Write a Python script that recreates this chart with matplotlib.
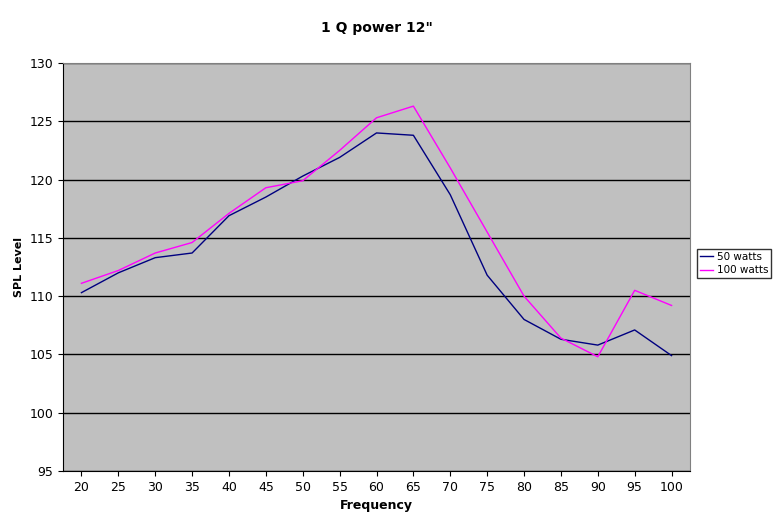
import matplotlib
matplotlib.use("Agg")
import matplotlib.pyplot as plt

freq = [20,25,30,35,40,45,50,55,60,65,70,75,80,85,90,95,100]
w50 = [110.3,112.0,113.3,113.7,116.9,118.5,120.3,121.9,124.0,123.8,118.7,111.8,108.0,106.3,105.8,107.1,104.9]
w100 = [111.1,112.2,113.7,114.6,117.1,119.3,119.9,122.5,125.3,126.3,121.0,115.5,110.0,106.4,104.8,110.5,109.2]

fig = plt.figure(figsize=(7.84,5.28), dpi=100)
ax = fig.add_axes([63/784, 1-471/528, 627/784, 408/528])
ax.set_facecolor('#C0C0C0')
x = list(range(len(freq)))
ax.plot(x, w50, color='#000080', lw=1, label='50 watts')
ax.plot(x, w100, color='#FF00FF', lw=1, label='100 watts')
ax.set_xlim(-0.5, len(freq)-0.5)
ax.set_ylim(95,130)
ax.set_yticks(range(95,131,5))
ax.set_xticks(x)
ax.set_xticklabels([str(f) for f in freq])
ax.yaxis.grid(True, color='black', lw=1)
ax.set_axisbelow(True)
for s in ['top','right']:
    ax.spines[s].set_color('#808080')
ax.tick_params(labelsize=9)
ax.set_xlabel('Frequency', fontsize=9, fontweight='bold')
ax.set_ylabel('SPL Level', fontsize=8, fontweight='bold')
ax.set_title('1 Q power 12"', fontsize=10, fontweight='bold', pad=22)
fig.legend(loc='upper left', bbox_to_anchor=(697/784, 1-249/528), fontsize=7.5,
           frameon=True, fancybox=False, edgecolor='black', borderaxespad=0,
           handlelength=1.2, handletextpad=0.4, borderpad=0.3, labelspacing=0.3)
fig.savefig('out.png', dpi=100)
